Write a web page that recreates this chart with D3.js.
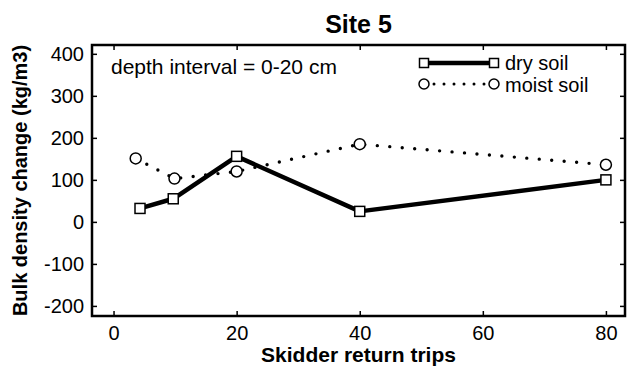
<!DOCTYPE html>
<html>
<head>
<meta charset="utf-8">
<script src="https://cdn.jsdelivr.net/npm/d3@7"></script>
<style>
  body { margin: 0; background: #fff; }
  svg { font-family: "Liberation Sans", Arial, sans-serif; }
</style>
</head>
<body>
<div id="chart"></div>
<script>
// values
const dryTrips = [4.3, 9.7, 20, 40, 80];
const dryValues = [32, 55, 156, 25, 100];
const moistTrips = [3.6, 9.9, 20, 40, 80];
const moistValues = [151, 103, 120, 185, 136];
const xTicks = [0, 20, 40, 60, 80];
const yTicks = [-200, -100, 0, 100, 200, 300, 400];

const width = 635;
const height = 367;
const margin = { top: 45, right: 10, bottom: 51, left: 92 };

const svg = d3.select('#chart')
  .append('svg')
  .attr('width', width)
  .attr('height', height);

const x = d3.scaleLinear()
  .domain([-3.5, 83.1])
  .range([margin.left, width - margin.right]);

const y = d3.scaleLinear()
  .domain([-224, 421])
  .range([height - margin.bottom, margin.top]);

// axes: labels on left/bottom, inward ticks on all four sides
svg.append('g')
  .attr('transform', `translate(0,${height - margin.bottom})`)
  .call(d3.axisBottom(x).tickValues(xTicks).tickSize(-5).tickPadding(10).tickFormat((d) => String(d)))
  .call((g) => g.select('.domain').remove())
  .call((g) => g.selectAll('text').style('font-size', '20px').attr('fill', '#000'));

svg.append('g')
  .attr('transform', `translate(${margin.left},0)`)
  .call(d3.axisLeft(y).tickValues(yTicks).tickSize(-5).tickPadding(8).tickFormat((d) => String(d)))
  .call((g) => g.select('.domain').remove())
  .call((g) => g.selectAll('text').style('font-size', '20px').attr('fill', '#000'));

svg.append('g')
  .attr('transform', `translate(0,${margin.top})`)
  .call(d3.axisTop(x).tickValues(xTicks).tickSize(-5).tickFormat(''))
  .call((g) => g.select('.domain').remove());

svg.append('g')
  .attr('transform', `translate(${width - margin.right},0)`)
  .call(d3.axisRight(y).tickValues(yTicks).tickSize(-5).tickFormat(''))
  .call((g) => g.select('.domain').remove());

svg.selectAll('.tick line').attr('stroke', '#000').attr('stroke-width', 1.5);

svg.append('rect')
  .attr('x', margin.left)
  .attr('y', margin.top)
  .attr('width', width - margin.left - margin.right)
  .attr('height', height - margin.top - margin.bottom)
  .attr('fill', 'none')
  .attr('stroke', '#000')
  .attr('stroke-width', 2.5);

// lines
const dry = dryTrips.map((t, i) => ({ t, v: dryValues[i] }));
const moist = moistTrips.map((t, i) => ({ t, v: moistValues[i] }));
const line = d3.line().x((d) => x(d.t)).y((d) => y(d.v));

svg.append('path')
  .datum(moist)
  .attr('d', line)
  .attr('fill', 'none')
  .attr('stroke', '#000')
  .attr('stroke-width', 3.4)
  .attr('stroke-linecap', 'round')
  .attr('stroke-dasharray', '0 12.5');

svg.append('path')
  .datum(dry)
  .attr('d', line)
  .attr('fill', 'none')
  .attr('stroke', '#000')
  .attr('stroke-width', 4.5)
  .attr('stroke-linejoin', 'round');

svg.append('g')
  .selectAll('circle')
  .data(moist)
  .enter()
  .append('circle')
    .attr('cx', (d) => x(d.t))
    .attr('cy', (d) => y(d.v))
    .attr('r', 5.5)
    .attr('fill', '#fff')
    .attr('stroke', '#000')
    .attr('stroke-width', 1.5);

svg.append('g')
  .selectAll('rect')
  .data(dry)
  .enter()
  .append('rect')
    .attr('x', (d) => x(d.t) - 5)
    .attr('y', (d) => y(d.v) - 5)
    .attr('width', 10)
    .attr('height', 10)
    .attr('fill', '#fff')
    .attr('stroke', '#000')
    .attr('stroke-width', 1.5);

// legend
const legend = svg.append('g');
legend.append('line')
  .attr('x1', 424).attr('x2', 494).attr('y1', 63).attr('y2', 63)
  .attr('stroke', '#000').attr('stroke-width', 4.5);
legend.selectAll('rect')
  .data([424, 494])
  .enter()
  .append('rect')
    .attr('x', (d) => d - 4.5).attr('y', 58.5)
    .attr('width', 9).attr('height', 9)
    .attr('fill', '#fff').attr('stroke', '#000').attr('stroke-width', 1.5);
legend.append('line')
  .attr('x1', 424).attr('x2', 494).attr('y1', 84).attr('y2', 84)
  .attr('stroke', '#000').attr('stroke-width', 3)
  .attr('stroke-linecap', 'round')
  .attr('stroke-dasharray', '0 10');
legend.selectAll('circle')
  .data([424, 494])
  .enter()
  .append('circle')
    .attr('cx', (d) => d).attr('cy', 84).attr('r', 5)
    .attr('fill', '#fff').attr('stroke', '#000').attr('stroke-width', 1.5);
legend.append('text').attr('x', 505).attr('y', 69.5).text('dry soil')
  .style('font-size', '20px');
legend.append('text').attr('x', 505).attr('y', 92).text('moist soil')
  .style('font-size', '20px');

// texts
svg.append('text')
  .attr('x', 111).attr('y', 74)
  .text('depth interval = 0-20 cm')
  .style('font-size', '21px');

svg.append('text')
  .attr('x', (margin.left + width - margin.right) / 2)
  .attr('y', 33)
  .attr('text-anchor', 'middle')
  .style('font-size', '25px')
  .style('font-weight', 'bold')
  .text('Site 5');

svg.append('text')
  .attr('x', (margin.left + width - margin.right) / 2)
  .attr('y', 362)
  .attr('text-anchor', 'middle')
  .style('font-size', '21px')
  .style('font-weight', 'bold')
  .text('Skidder return trips');

svg.append('text')
  .attr('transform', `translate(27,${(margin.top + height - margin.bottom) / 2}) rotate(-90)`)
  .attr('text-anchor', 'middle')
  .style('font-size', '20px')
  .style('font-weight', 'bold')
  .text('Bulk density change (kg/m3)');
</script>
</body>
</html>
